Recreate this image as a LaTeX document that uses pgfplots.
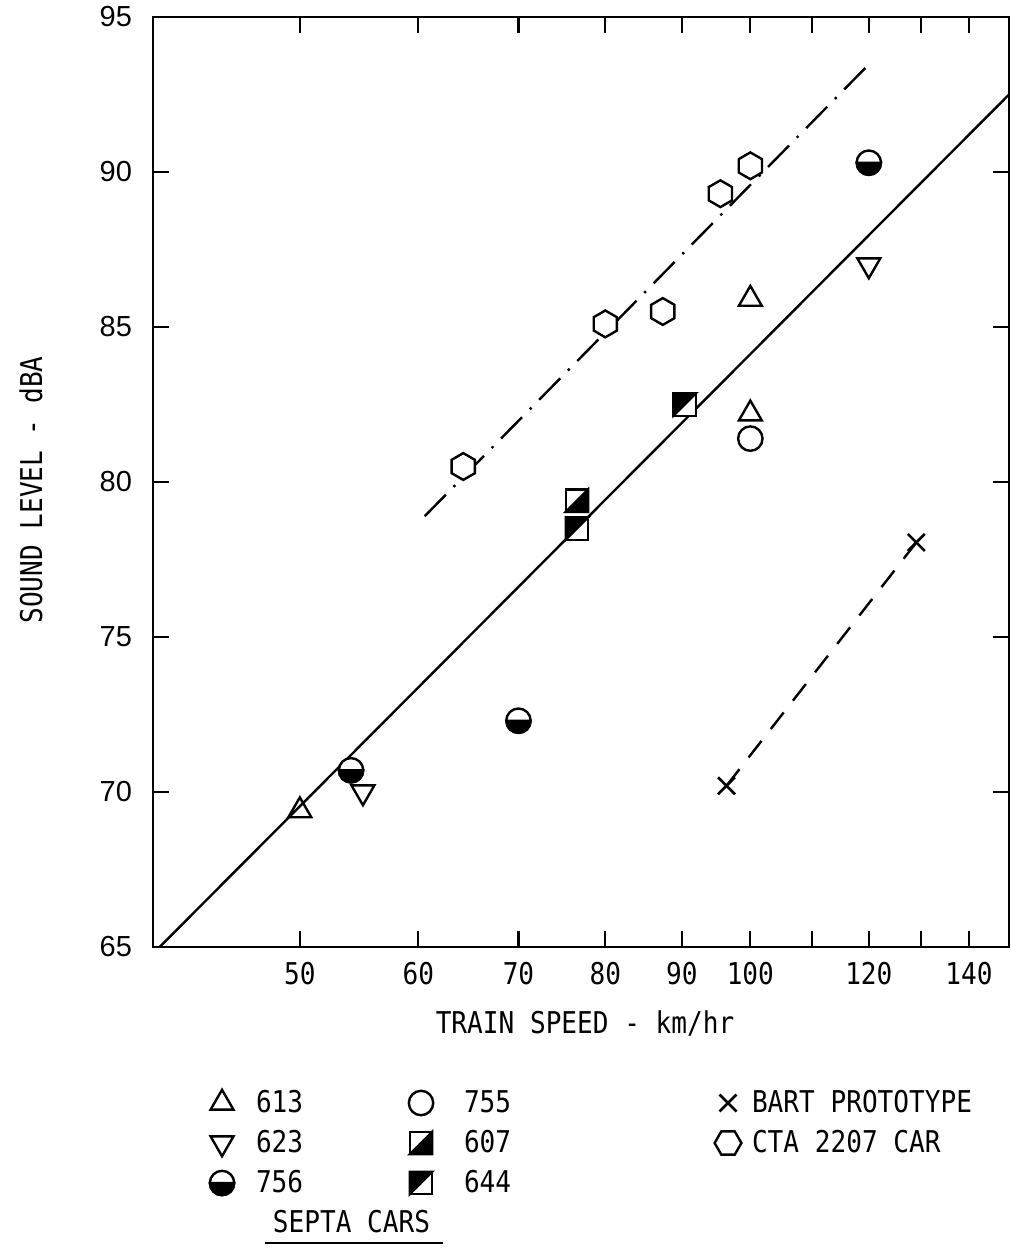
\documentclass[border=0pt]{standalone}
\usepackage{pgfplots}
\pgfplotsset{compat=1.18}
\usepackage{fontspec}
\setmainfont{Liberation Sans}
\newfontfamily\labelfont[FakeStretch=0.87]{DejaVu Sans Mono}
\newcommand{\lbl}{\labelfont\fontsize{15pt}{18pt}\selectfont}

% hexagon, pointed top (data) and flat top (key)
\pgfdeclareplotmark{hexagon}{%
  \pgfpathmoveto{\pgfpointpolar{90}{\pgfplotmarksize}}%
  \pgfpathlineto{\pgfpointpolar{150}{\pgfplotmarksize}}%
  \pgfpathlineto{\pgfpointpolar{210}{\pgfplotmarksize}}%
  \pgfpathlineto{\pgfpointpolar{270}{\pgfplotmarksize}}%
  \pgfpathlineto{\pgfpointpolar{330}{\pgfplotmarksize}}%
  \pgfpathlineto{\pgfpointpolar{30}{\pgfplotmarksize}}%
  \pgfpathclose
  \pgfusepathqfillstroke}
\pgfdeclareplotmark{hexflat}{%
  \pgfpathmoveto{\pgfpointpolar{0}{\pgfplotmarksize}}%
  \pgfpathlineto{\pgfpointpolar{60}{\pgfplotmarksize}}%
  \pgfpathlineto{\pgfpointpolar{120}{\pgfplotmarksize}}%
  \pgfpathlineto{\pgfpointpolar{180}{\pgfplotmarksize}}%
  \pgfpathlineto{\pgfpointpolar{240}{\pgfplotmarksize}}%
  \pgfpathlineto{\pgfpointpolar{300}{\pgfplotmarksize}}%
  \pgfpathclose
  \pgfusepathqfillstroke}
% circle with black lower half
\pgfdeclareplotmark{halfcircle}{%
  \pgfpathcircle{\pgfpointorigin}{\pgfplotmarksize}%
  \pgfusepathqfillstroke
  \pgfscope
  \pgfsetfillcolor{black}%
  \pgfpathmoveto{\pgfqpoint{-\pgfplotmarksize}{0pt}}%
  \pgfpatharc{180}{360}{\pgfplotmarksize}%
  \pgfpathclose
  \pgfusepathqfillstroke
  \endpgfscope}
% square, black lower-right half
\pgfdeclareplotmark{sqlr}{%
  \pgfpathrectangle{\pgfqpoint{-\pgfplotmarksize}{-\pgfplotmarksize}}{\pgfqpoint{2\pgfplotmarksize}{2\pgfplotmarksize}}%
  \pgfusepathqfillstroke
  \pgfscope
  \pgfsetfillcolor{black}%
  \pgfpathmoveto{\pgfqpoint{-\pgfplotmarksize}{-\pgfplotmarksize}}%
  \pgfpathlineto{\pgfqpoint{\pgfplotmarksize}{-\pgfplotmarksize}}%
  \pgfpathlineto{\pgfqpoint{\pgfplotmarksize}{\pgfplotmarksize}}%
  \pgfpathclose
  \pgfusepathqfillstroke
  \endpgfscope}
% square, black upper-left half
\pgfdeclareplotmark{squl}{%
  \pgfpathrectangle{\pgfqpoint{-\pgfplotmarksize}{-\pgfplotmarksize}}{\pgfqpoint{2\pgfplotmarksize}{2\pgfplotmarksize}}%
  \pgfusepathqfillstroke
  \pgfscope
  \pgfsetfillcolor{black}%
  \pgfpathmoveto{\pgfqpoint{-\pgfplotmarksize}{-\pgfplotmarksize}}%
  \pgfpathlineto{\pgfqpoint{-\pgfplotmarksize}{\pgfplotmarksize}}%
  \pgfpathlineto{\pgfqpoint{\pgfplotmarksize}{\pgfplotmarksize}}%
  \pgfpathclose
  \pgfusepathqfillstroke
  \endpgfscope}

\pgfplotsset{
  mk/.style={black, mark options={solid, fill=white, line width=1.2pt}},
  mkdown/.style={black, mark options={solid, fill=white, line width=1.2pt, rotate=180}},
  mkx/.style={black, mark options={solid, line width=1.3pt}},
}

\begin{document}
\begin{tikzpicture}
\path[use as bounding box] (-76.5pt,-150.5pt) rectangle (429pt,473.5pt);
\begin{axis}[
  at={(0pt,0pt)}, anchor=south west,
  scale only axis, width=428pt, height=465pt,
  xmode=log, xmin=39.9, xmax=148.9, ymin=65, ymax=95,
  xtick={50,60,70,80,90,100,110,120,130,140},
  xticklabels={50,60,70,80,90,100,,120,,140},
  ytick={65,70,75,80,85,90,95},
  yticklabels={65,70,75,80,85,90,95},
  xminorticks=false, yminorticks=false,
  tick align=inside, major tick length=8pt,
  every tick/.style={black, line width=1.1pt},
  axis line style={line width=1.4pt},
  /pgf/number format/assume math mode=true,
  xticklabel style={font=\lbl},
  yticklabel style={font=\fontsize{14.5pt}{16pt}\selectfont},
  xticklabel shift=4pt, yticklabel shift=7pt,
  clip=false,
  xlabel={TRAIN SPEED - km/hr},
  ylabel={SOUND LEVEL - dBA},
  xlabel style={font=\lbl, at={(axis description cs:0.5047,-0.0925)}, anchor=base},
  ylabel style={font=\lbl, at={(axis description cs:-0.1297,0.4914)}, anchor=base},
  legend image code/.code={\path[draw=none,fill=none] (-7pt,-7pt) rectangle (7pt,7pt); \draw[#1] plot coordinates {(0pt,0pt)};},
  legend columns=3,
  legend style={draw=none, fill=none, font=\lbl,
    at={(axis description cs:0.06425,-0.1527)}, anchor=north west,
    inner xsep=0pt, inner ysep=0pt, outer sep=0pt,
    nodes={inner sep=0pt}, cells={anchor=west},
    column sep=0pt, row sep=6pt},
]
% fitted lines
\addplot[black, line width=1.2pt, forget plot] coordinates {(40.3,65) (148.9,92.5)};
\addplot[black, line width=1.2pt, dash pattern=on 15pt off 5.5pt on 1.2pt off 5.5pt, forget plot]
  coordinates {(60.6,78.9) (119.6,93.4)};
\addplot[black, line width=1.2pt, dash pattern=on 10.5pt off 7.5pt, forget plot]
  coordinates {(96.4,70.2) (129.1,78.05)};

% SEPTA 613
\addplot[mk, only marks, mark=triangle, mark size=6.6pt, forget plot]
  coordinates {(50,69.4) (100,85.9) (100,82.2)};
% SEPTA 623
\addplot[mkdown, only marks, mark=triangle, mark size=6.6pt, forget plot]
  coordinates {(55.1,70.0) (120,87.0)};
% SEPTA 756
\addplot[mk, only marks, mark=halfcircle, mark size=6.1pt, forget plot]
  coordinates {(54.1,70.7) (70,72.3) (120,90.3)};
% SEPTA 755
\addplot[mk, only marks, mark=o, mark size=6.1pt, forget plot]
  coordinates {(100,81.4)};
% SEPTA 607
\addplot[mk, only marks, mark=sqlr, mark size=5.6pt, forget plot]
  coordinates {(76.6,79.4)};
% SEPTA 644
\addplot[mk, only marks, mark=squl, mark size=5.6pt, forget plot]
  coordinates {(76.6,78.5) (90.4,82.5)};
% CTA 2207 car
\addplot[mk, only marks, mark=hexagon, mark size=6.7pt, forget plot]
  coordinates {(64.3,80.5) (80,85.1) (87.4,85.5) (95.5,89.3) (100,90.2)};
% BART prototype
\addplot[mkx, only marks, mark=x, mark size=6pt, forget plot]
  coordinates {(96.4,70.2) (129.1,78.05)};

% key
\addlegendimage{mk, mark=triangle, mark size=6.6pt}
\addlegendentry{\makebox[85.5pt][l]{\hspace{10pt}613}}
\addlegendimage{mk, mark=o, mark size=6.1pt}
\addlegendentry{\makebox[139.5pt][l]{\hspace{14.5pt}755}}
\addlegendimage{mkx, mark=x, mark size=6pt}
\addlegendentry{\hspace{5pt}BART PROTOTYPE}
\addlegendimage{mkdown, mark=triangle, mark size=6.6pt}
\addlegendentry{\makebox[85.5pt][l]{\hspace{10pt}623}}
\addlegendimage{mk, mark=sqlr, mark size=5.6pt}
\addlegendentry{\makebox[139.5pt][l]{\hspace{14.5pt}607}}
\addlegendimage{mk, mark=hexflat, mark size=6.7pt}
\addlegendentry{\hspace{5pt}CTA 2207 CAR}
\addlegendimage{mk, mark=halfcircle, mark size=6.1pt}
\addlegendentry{\makebox[85.5pt][l]{\hspace{10pt}756}}
\addlegendimage{mk, mark=squl, mark size=5.6pt}
\addlegendentry{\makebox[139.5pt][l]{\hspace{14.5pt}644}}
\addlegendimage{empty legend}
\addlegendentry{}

\node[font=\lbl, anchor=base] at (axis description cs:0.2319,-0.3065) {SEPTA CARS};
\draw[line width=1pt] (axis description cs:0.1308,-0.3183) -- (axis description cs:0.3388,-0.3183);
\end{axis}
\end{tikzpicture}
\end{document}
